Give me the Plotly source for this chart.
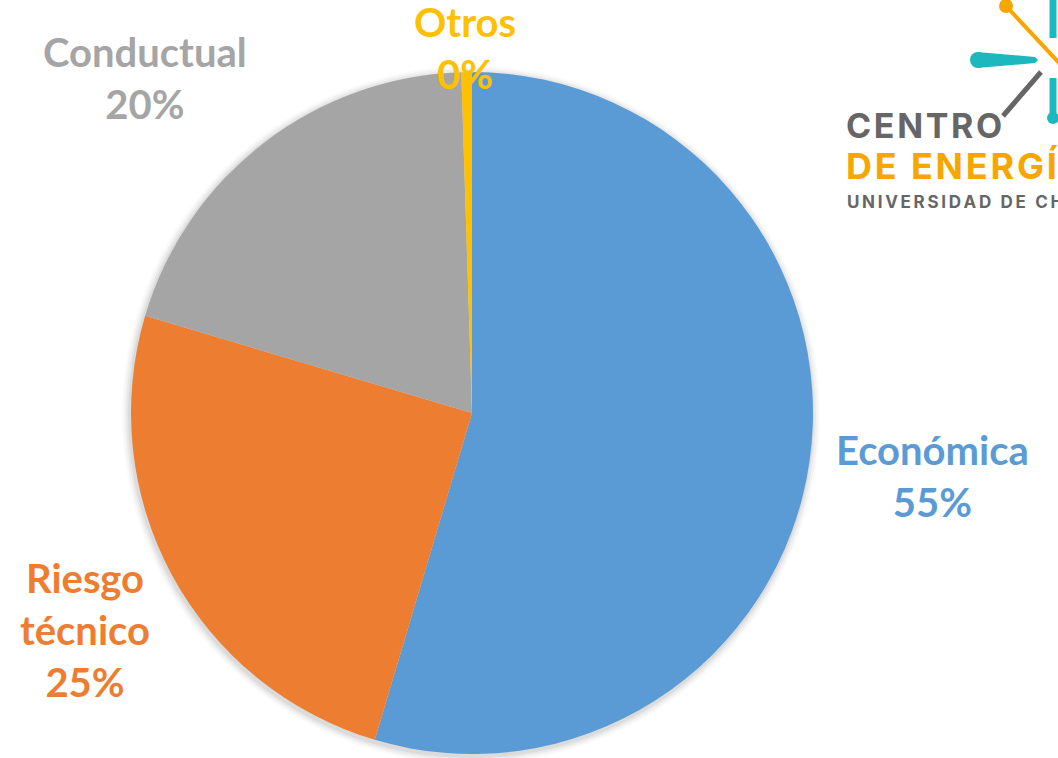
import plotly.graph_objects as go

categories = ["Económica", "Riesgo técnico", "Conductual", "Otros"]
values = [54.6, 25.0, 19.9, 0.5]
colors = ["#5B9BD5", "#ED7D31", "#A5A5A5", "#FFC000"]

# label centres in pixels (x, y from top)
label_pos = [(932, 476), (85, 630), (145, 78), (465, 48)]

W, H = 1058, 758
cx, cy, r = 472, 413, 341


def fx(x):
    return x / W


def fy(y):
    return 1 - y / H


fig = go.Figure(go.Pie(
    labels=categories,
    values=values,
    marker=dict(colors=colors, line=dict(width=0)),
    sort=False,
    direction="clockwise",
    rotation=0,
    textinfo="none",
    hoverinfo="label+percent",
    domain=dict(x=[fx(cx - r), fx(cx + r)], y=[fy(cy + r), fy(cy - r)]),
    showlegend=False,
))

total = sum(values)
annotations = []
for name, v, col, (px_, py_) in zip(categories, values, colors, label_pos):
    text = name.replace(" ", "<br>") + "<br>" + f"{round(v / total * 100)}%"
    annotations.append(dict(
        x=fx(px_), y=fy(py_), xref="paper", yref="paper",
        text=text, showarrow=False, xanchor="center", yanchor="middle",
        font=dict(family="Lato", size=40, color=col, weight="bold"),
    ))

# logo text (letter-spaced)
logo = [
    ("CENTRO", 844, 125, 34, "#666666", "\u200a"),
    ("DE ENERGÍA", 844, 166, 36, "#F7A600", "\u200a"),
    ("UNIVERSIDAD DE CHILE", 845, 202, 17, "#666666", "\u2009"),
]
for txt, lx, ly, sz, col, sp in logo:
    annotations.append(dict(
        x=fx(lx), y=fy(ly), xref="paper", yref="paper", text=sp.join(txt),
        showarrow=False, xanchor="left", yanchor="middle",
        font=dict(family="Inter", size=sz, color=col, weight="bold"),
    ))

shapes = []
# soft glow around pie
for i, op in enumerate([0.05, 0.04, 0.03, 0.02]):
    rr = r + 2 + i * 2
    shapes.append(dict(
        type="circle", xref="paper", yref="paper", layer="below",
        xsizemode="pixel", ysizemode="pixel", xanchor=fx(cx), yanchor=fy(cy),
        x0=-rr - 1, x1=rr - 1, y0=-rr - 2, y1=rr - 2,
        fillcolor=f"rgba(0,0,0,{op})", line=dict(width=0),
    ))


def seg(x0, y0, x1, y1, col, w):
    shapes.append(dict(
        type="line", xref="paper", yref="paper",
        x0=fx(x0), y0=fy(y0), x1=fx(x1), y1=fy(y1),
        line=dict(color=col, width=w),
    ))


def dot(x, y, rad, col):
    shapes.append(dict(
        type="circle", xref="paper", yref="paper",
        xsizemode="pixel", ysizemode="pixel", xanchor=fx(x), yanchor=fy(y),
        x0=-rad, x1=rad, y0=-rad, y1=rad, fillcolor=col, line=dict(width=0),
    ))


teal = "#1DB8BE"
orange = "#F7A600"
grey = "#666666"
seg(1006, 6, 1062, 66, orange, 4)
dot(1006, 6, 7, orange)
# tapered horizontal spoke
pts = [(977, 52), (1035, 57), (1038, 60), (1035, 63), (977, 68)]
path = "M " + " L ".join(f"{fx(x)},{fy(y)}" for x, y in pts) + " Z"
shapes.append(dict(type="path", xref="paper", yref="paper", path=path,
                   fillcolor=teal, line=dict(width=0)))
dot(978, 60, 8, teal)
seg(1053, 0, 1053, 38, teal, 7)
seg(1053, 78, 1053, 118, teal, 7)
dot(1053, 118, 6, teal)
seg(1041, 72, 1003, 116, grey, 5)

fig.update_layout(
    width=W, height=H,
    margin=dict(l=0, r=0, t=0, b=0),
    paper_bgcolor="white",
    plot_bgcolor="white",
    annotations=annotations,
    shapes=shapes,
)

fig.write_html("out.html", config={"displayModeBar": False},
               post_script="document.body.style.margin='0';document.body.style.overflow='hidden';")
